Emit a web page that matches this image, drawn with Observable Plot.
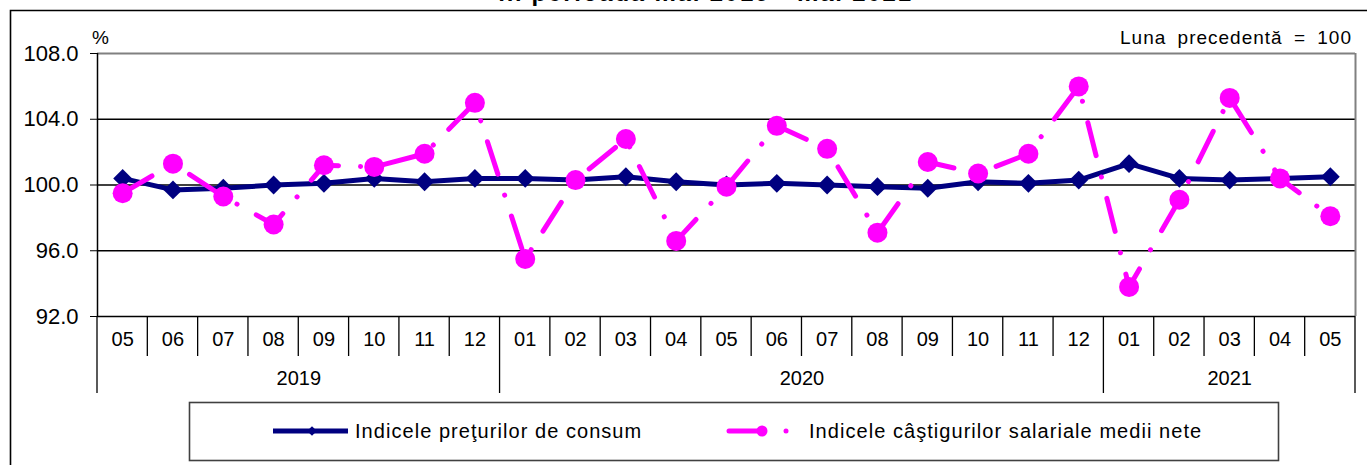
<!DOCTYPE html>
<html><head><meta charset="utf-8">
<script src="https://cdn.jsdelivr.net/npm/d3@7"></script>
<script src="https://cdn.jsdelivr.net/npm/@observablehq/plot@0.6"></script>
<style>
body{margin:0;background:#fff;overflow:hidden}
#wrap{position:relative;width:1367px;height:465px;overflow:hidden;font-family:Arial,"Liberation Sans",sans-serif}
#title{position:absolute;left:0;top:-21px;width:1367px;text-align:center;font-weight:bold;font-size:24px;letter-spacing:1.8px;padding-left:44px;box-sizing:border-box;color:#000;z-index:2}
#chart{position:absolute;left:0;top:0}
</style></head><body>
<div id="wrap"><div id="title">în perioada mai 2019 - mai 2021</div><div id="chart"></div></div>
<script>
const months = ["05","06","07","08","09","10","11","12","01","02","03","04","05","06","07","08","09","10","11","12","01","02","03","04","05"];
const years  = ["2019","2019","2019","2019","2019","2019","2019","2019","2020","2020","2020","2020","2020","2020","2020","2020","2020","2020","2020","2020","2021","2021","2021","2021","2021"];
const cpi    = [100.4,99.7,99.8,100.0,100.1,100.4,100.2,100.4,100.4,100.3,100.5,100.2,100.0,100.1,100.0,99.9,99.8,100.2,100.1,100.3,101.3,100.4,100.3,100.4,100.5];
const wages  = [99.5,101.3,99.3,97.6,101.2,101.1,101.9,105.0,95.5,100.3,102.8,96.6,99.9,103.6,102.2,97.1,101.4,100.7,101.9,106.0,93.8,99.1,105.3,100.4,98.1];
const yTicks = [92,96,100,104,108];
const seriesNames = ["Indicele preţurilor de consum","Indicele câştigurilor salariale medii nete"];
const unitLabel = "%";
const noteLabel = "Luna precedentă = 100";

const data = months.map((m,i)=>({i, m, year: years[i], cpi: cpi[i], w: wages[i]}));
const yearGroups = Array.from(d3.group(data, d=>d.year), ([y, arr]) => ({year:y, start:arr[0].i, end:arr[arr.length-1].i+1}));

const NAVY = "#000080", MAG = "#ff00ff";
const font = 'Arial, "Liberation Sans", sans-serif';

const plot = Plot.plot({
  width: 1367, height: 465,
  marginLeft: 97, marginRight: 12, marginTop: 53, marginBottom: 149,
  style: {fontFamily: font, fontSize: "22px", color: "#000", background: "transparent", overflow: "visible"},
  x: {type: "linear", domain: [0, months.length], axis: null},
  y: {domain: [92, 108], ticks: yTicks, tickFormat: d => d.toFixed(1), tickSize: 7, tickPadding: 12, label: null},
  marks: [
    Plot.ruleY(yTicks.filter(t => t > 92 && t < 108), {stroke: "#000", strokeWidth: 1.4}),
    Plot.ruleY([108], {stroke: "#808080", strokeWidth: 2}),
    Plot.ruleX([months.length], {stroke: "#808080", strokeWidth: 2}),
    Plot.ruleX([0], {stroke: "#000", strokeWidth: 1.5}),
    Plot.ruleY([92], {stroke: "#000", strokeWidth: 1.5}),
    Plot.line(data, {x: d => d.i + 0.5, y: "cpi", stroke: NAVY, strokeWidth: 5}),
    Plot.dot(data, {x: d => d.i + 0.5, y: "cpi", symbol: "diamond2", r: 8.5, fill: NAVY, stroke: "none"}),
    Plot.line(data, {x: d => d.i + 0.5, y: "w", stroke: MAG, strokeWidth: 5, strokeDasharray: "34,22,0.1,22", strokeLinecap: "round"}),
    Plot.dot(data, {x: d => d.i + 0.5, y: "w", r: 10, fill: MAG, stroke: "none"}),
    Plot.text(data, {x: d => d.i + 0.5, text: "m", frameAnchor: "bottom", dy: 29, fontSize: 20, letterSpacing: 0.5}),
    Plot.text(yearGroups, {x: d => (d.start + d.end) / 2, text: "year", frameAnchor: "bottom", dy: 68, fontSize: 20, letterSpacing: 0.5})
  ]
});
document.getElementById("chart").appendChild(plot);

const svg = d3.select(plot);
const xs = plot.scale("x"), ys = plot.scale("y");
const yBottom = ys.apply(92), yTop = ys.apply(108);
const g = svg.append("g").attr("text-anchor", "start");
// outer frame
g.append("path").attr("d", `M10.5,465V10.5H1367`).attr("fill","none").attr("stroke","#000").attr("stroke-width",1.6);
// month separators
const yearStarts = new Set(yearGroups.map(d => d.start).concat(yearGroups.map(d => d.end)));
d3.range(0, months.length + 1).forEach(i => {
  const x = xs.apply(i);
  const long = yearStarts.has(i);
  g.append("line").attr("x1", x).attr("x2", x).attr("y1", yBottom).attr("y2", yBottom + (long ? 77 : 40))
    .attr("stroke", "#000").attr("stroke-width", 1.3);
});
// unit & note
g.append("text").attr("x", xs.apply(0) - 5).attr("y", yTop - 9).attr("font-size", 19).attr("font-family", font).text(unitLabel);
g.append("text").attr("x", xs.apply(months.length) - 3).attr("y", yTop - 9).attr("text-anchor","end").attr("font-size", 19).attr("word-spacing", 5).attr("letter-spacing", 1).attr("font-family", font).text(noteLabel);
// legend
const lg = g.append("g").attr("font-family", font).attr("font-size", 20).attr("letter-spacing", 1.05).attr("text-anchor", "start");
lg.append("rect").attr("x", 189.5).attr("y", 402.5).attr("width", 1089).attr("height", 58).attr("fill","#fff").attr("stroke","#404040").attr("stroke-width",1.6);
const ly = 431;
lg.append("line").attr("x1",273).attr("x2",348).attr("y1",ly).attr("y2",ly).attr("stroke",NAVY).attr("stroke-width",5);
lg.append("path").attr("d", d3.symbol(d3.symbolDiamond2, 60)()).attr("transform",`translate(312,${ly})`).attr("fill",NAVY);
lg.append("text").attr("x",355).attr("y",ly).attr("dy","0.35em").text(seriesNames[0]);
lg.append("line").attr("x1",729).attr("x2",760).attr("y1",ly).attr("y2",ly).attr("stroke",MAG).attr("stroke-width",5).attr("stroke-linecap","round");
lg.append("circle").attr("cx",762).attr("cy",ly).attr("r",5.5).attr("fill",MAG);
lg.append("circle").attr("cx",786).attr("cy",ly).attr("r",2.5).attr("fill",MAG);
lg.append("text").attr("x",809).attr("y",ly).attr("dy","0.35em").text(seriesNames[1]);
</script>
</body></html>
